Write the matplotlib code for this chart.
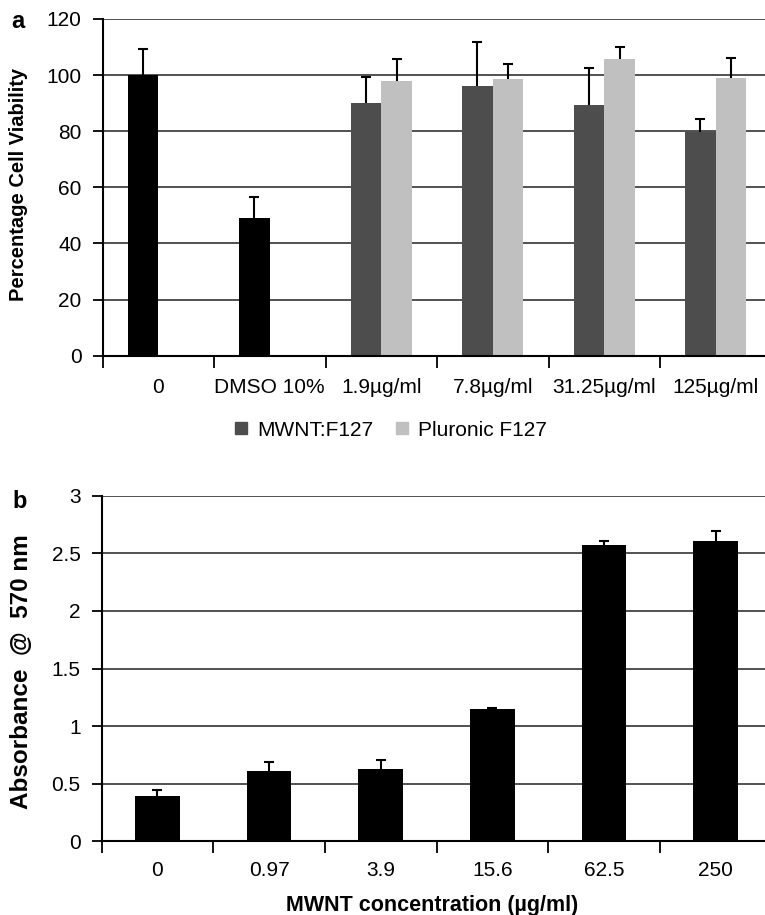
import numpy as np
import matplotlib
matplotlib.use("Agg")
import matplotlib.pyplot as plt
from matplotlib.patches import Patch

plt.rcParams['font.family'] = ['Liberation Sans', 'DejaVu Sans']

# panel a: cell viability
cats_a = ['0', 'DMSO 10%', '1.9\u00b5g/ml', '7.8\u00b5g/ml', '31.25\u00b5g/ml', '125\u00b5g/ml']
ctrl_vals = [100, 49]
ctrl_err = [9.3, 7.5]
mwnt_vals = [89.9, 96.1, 89.3, 79.7]
mwnt_err = [9.5, 15.6, 13.2, 4.6]
plur_vals = [97.9, 98.5, 105.7, 99.0]
plur_err = [7.7, 5.3, 4.2, 7.1]

# panel b: absorbance
cats_b = ['0', '0.97', '3.9', '15.6', '62.5', '250']
abs_vals = [0.39, 0.61, 0.63, 1.15, 2.57, 2.61]
abs_err = [0.055, 0.08, 0.08, 0.01, 0.04, 0.08]

W, H = 765, 915
fig = plt.figure(figsize=(W / 100, H / 100), dpi=100)

def rect(l, t, r, b):
    return [l / W, 1 - b / H, (r - l) / W, (b - t) / H]

def fxy(x, y):
    return x / W, 1 - y / H

DARK = '#4d4d4d'
LIGHT = '#c0c0c0'
GRID = '#333333'
FS = 15

def style(ax, ymax, ystep, cats, xpad):
    n = len(cats)
    ax.set_xlim(0, n)
    ax.set_ylim(0, ymax)
    ax.set_yticks(np.arange(0, ymax + ystep / 2, ystep))
    ax.set_xticks(np.arange(0, n + 1))
    ax.set_xticklabels([])
    ax.set_xticks(np.arange(n) + 0.5, minor=True)
    ax.set_xticklabels(cats, minor=True, fontsize=FS)
    ax.tick_params(axis='x', which='major', length=8.5, width=1.3, direction='out', color='black')
    ax.tick_params(axis='x', which='minor', length=0, pad=xpad)
    ax.tick_params(axis='y', length=7, width=1.3, pad=8, labelsize=FS)
    ax.yaxis.grid(True, color=GRID, lw=1.2)
    ax.set_axisbelow(True)
    for s in ['top', 'right']:
        ax.spines[s].set_visible(False)
    ax.spines['left'].set_linewidth(1.5)
    ax.spines['bottom'].set_linewidth(1.5)
    ax.spines['bottom'].set_zorder(3)

def errs(ax, x, y, e):
    y = np.asarray(y)
    e = np.asarray(e)
    ax.vlines(x, y, y + e, color='black', lw=1.5, zorder=4)
    ax.plot(x, y + e, ls='none', marker='_', ms=7.5, mew=1.5, color='black', zorder=4)

# ---- panel a
axa = fig.add_axes(rect(102.5, 18.9, 771.5, 355.7))
style(axa, 120, 20, cats_a, 16)
w = 0.275
xc = np.arange(len(cats_a)) + 0.5
x_ctrl = xc[:2] - w / 2
x_m = xc[2:] - w / 2
x_p = xc[2:] + w / 2
axa.bar(x_ctrl, ctrl_vals, w, color='black', zorder=2)
axa.bar(x_m, mwnt_vals, w, color=DARK, zorder=2)
axa.bar(x_p, plur_vals, w, color=LIGHT, zorder=2)
errs(axa, x_ctrl, ctrl_vals, ctrl_err)
errs(axa, x_m, mwnt_vals, mwnt_err)
errs(axa, x_p, plur_vals, plur_err)

handles = [Patch(color=DARK, label='MWNT:F127'), Patch(color=LIGHT, label='Pluronic F127')]
fig.legend(handles=handles, loc='center', bbox_to_anchor=fxy(391, 430), ncol=2,
           frameon=False, fontsize=FS, handlelength=0.55, handleheight=0.55,
           handletextpad=0.5, columnspacing=1.1)

fig.text(*fxy(19, 184), 'Percentage Cell Viability', rotation=90, ha='center', va='center',
         fontsize=14.5, fontweight='bold')
fig.text(*fxy(18, 22), 'a', ha='center', va='center', fontsize=17, fontweight='bold')

# ---- panel b
axb = fig.add_axes(rect(101.5, 495.7, 771.5, 841.3))
style(axb, 3, 0.5, cats_b, 14)
axb.set_yticklabels(['0', '0.5', '1', '1.5', '2', '2.5', '3'])
wb = 0.4
axb.bar(xc, abs_vals, wb, color='black', zorder=2)
errs(axb, xc, abs_vals, abs_err)

fig.text(*fxy(21.5, 672), 'Absorbance  @  570 nm', rotation=90, ha='center', va='center',
         fontsize=17.5, fontweight='bold')
fig.text(*fxy(19.5, 502), 'b', ha='center', va='center', fontsize=17, fontweight='bold')
fig.text(*fxy(432, 905), 'MWNT concentration (\u00b5g/ml)', ha='center', va='center',
         fontsize=15.5, fontweight='bold')

fig.savefig('out.png', dpi=100)
